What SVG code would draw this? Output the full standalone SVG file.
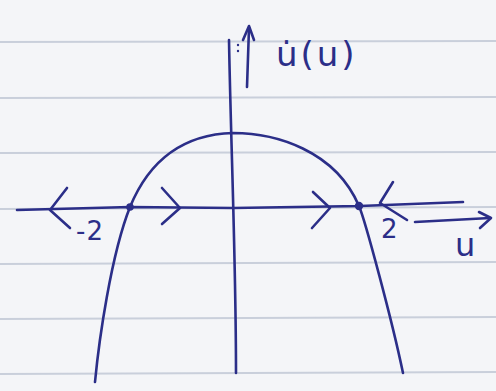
<svg xmlns="http://www.w3.org/2000/svg" width="496" height="391" viewBox="0 0 496 391">
  <style>
    .rule { stroke: #c9cfdb; stroke-width: 2; fill: none; }
    .ink { stroke: #2b2e88; stroke-width: 2.6; fill: none; stroke-linecap: round; stroke-linejoin: round; }
    .dot { fill: #2b2e88; }
    .lbl { fill: #2b2e88; font-family: "DejaVu Sans", "Liberation Sans", sans-serif; }
  </style>
  <rect id="paper" x="0" y="0" width="496" height="391" fill="#f4f5f8"/>
  <g id="rules">
    <line class="rule" x1="0" y1="42" x2="496" y2="41"/>
    <line class="rule" x1="0" y1="98" x2="496" y2="97"/>
    <line class="rule" x1="0" y1="153" x2="496" y2="152"/>
    <line class="rule" x1="0" y1="209" x2="496" y2="207"/>
    <line class="rule" x1="0" y1="264" x2="496" y2="262"/>
    <line class="rule" x1="0" y1="319" x2="496" y2="317"/>
    <line class="rule" x1="0" y1="374" x2="496" y2="372"/>
  </g>
  <g id="axes">
    <path class="ink" d="M229,40 C231,150 236,260 236,373" stroke-width="3"/>
    <path class="ink" d="M17,210 L130,207 L233,208 L360,206 L463,202"/>
    <circle class="dot" cx="238" cy="45" r="1.2"/>
    <circle class="dot" cx="238" cy="51" r="1.2"/>
  </g>
  <g id="curve">
    <path class="ink" d="M95,382 C99,340 111,255 130,207 C137,190 160,135 233,133 C275,133 335,150 359,206 C365,220 392,320 403,373"/>
  </g>
  <g id="connectors">
    <path class="ink" d="M247,87 L249,28"/>
    <path class="ink" d="M243,40 L249,26 L254,40"/>
    <path class="ink" d="M67,188 L50,210 L70,228"/>
    <path class="ink" d="M162,188 L180,208 L162,224"/>
    <path class="ink" d="M313,192 L330,208 L312,228"/>
    <path class="ink" d="M393,182 L380,203 L407,220"/>
    <path class="ink" d="M415,222 L490,218"/>
    <path class="ink" d="M479,212 L491,218 L480,228"/>
  </g>
  <g id="fixed-points">
    <circle class="dot" cx="130" cy="207" r="3.8"/>
    <circle class="dot" cx="359" cy="206" r="4.2"/>
  </g>
  <g id="labels">
    <text class="lbl" x="276" y="66" font-size="34" letter-spacing="3">u̇(u)</text>
    <text class="lbl" x="76" y="240" font-size="26" letter-spacing="1">-2</text>
    <text class="lbl" x="381" y="238" font-size="26">2</text>
    <text class="lbl" x="455" y="256" font-size="32">u</text>
  </g>
</svg>
